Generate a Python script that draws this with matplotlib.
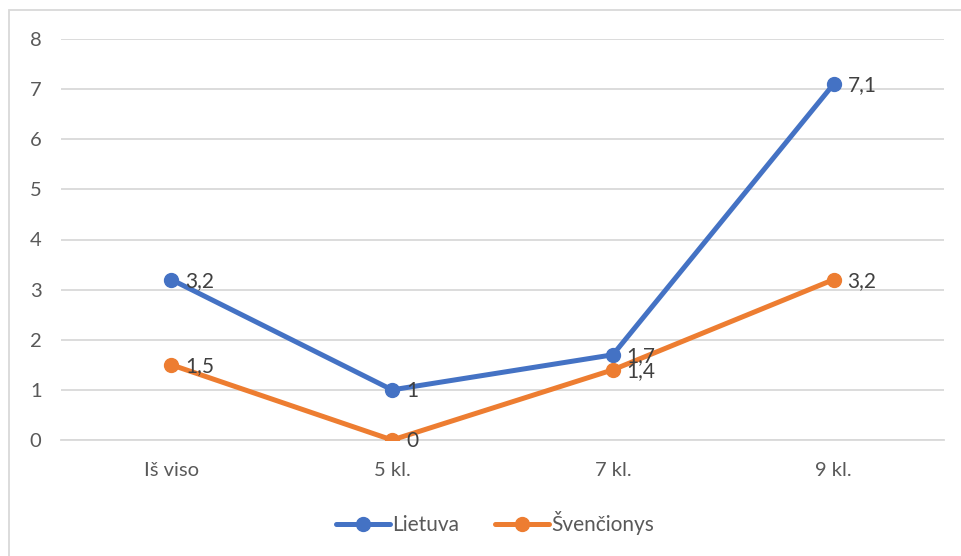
import matplotlib
matplotlib.use("Agg")
import matplotlib.pyplot as plt
from matplotlib.patches import Rectangle

categories = ["Iš viso", "5 kl.", "7 kl.", "9 kl."]
lietuva = [3.2, 1.0, 1.7, 7.1]
svencionys = [1.5, 0.0, 1.4, 3.2]
series_names = ["Lietuva", "Švenčionys"]
y_ticks = [0, 1, 2, 3, 4, 5, 6, 7, 8]

blue = "#4472C4"
orange = "#ED7D31"
grid_col = "#D9D9D9"
tick_col = "#595959"
label_col = "#404040"

plt.rcParams["font.family"] = ["Lato", "DejaVu Sans"]

fig = plt.figure(figsize=(9.61, 5.56), dpi=100)
ax = fig.add_axes([61 / 961, 1 - 440 / 556, (944 - 61) / 961, (440 - 39) / 556])

x = list(range(len(categories)))
for vals, col, name in [(lietuva, blue, series_names[0]), (svencionys, orange, series_names[1])]:
    ax.plot(x, vals, color=col, lw=3.6, marker="o", ms=10, solid_capstyle="round",
            label=name, zorder=3)
    for xi, v in zip(x, vals):
        txt = f"{v:g}".replace(".", ",")
        ax.annotate(txt, (xi, v), xytext=(10, -1), textcoords="offset points",
                    ha="left", va="center", fontsize=15, color=label_col, zorder=4)

ax.set_xlim(-0.5, len(categories) - 0.5)
ax.set_ylim(0, 8)
ax.set_yticks(y_ticks)
ax.set_xticks(x)
ax.set_xticklabels(categories)
ax.yaxis.grid(True, color=grid_col, lw=1.3)
ax.set_axisbelow(True)
for s in ax.spines.values():
    s.set_visible(False)
ax.spines["bottom"].set_visible(True)
ax.spines["bottom"].set_color(grid_col)
ax.spines["bottom"].set_linewidth(1.3)
ax.tick_params(axis="both", length=0, labelsize=14.5, labelcolor=tick_col)
ax.tick_params(axis="y", pad=14)
ax.tick_params(axis="x", pad=16)

leg = fig.legend(loc="center", bbox_to_anchor=(495 / 961, 1 - 523 / 556), ncol=2,
                 frameon=False, fontsize=15, handlelength=2.6, handletextpad=0.1,
                 columnspacing=1.7, labelcolor=tick_col)

# chart area border
fig.patches.append(Rectangle((9 / 961, -0.02), 1.0, 1 - 10 / 556 + 0.02,
                             transform=fig.transFigure, fill=False,
                             edgecolor=grid_col, lw=1.3))

fig.savefig("out.png", dpi=100)
